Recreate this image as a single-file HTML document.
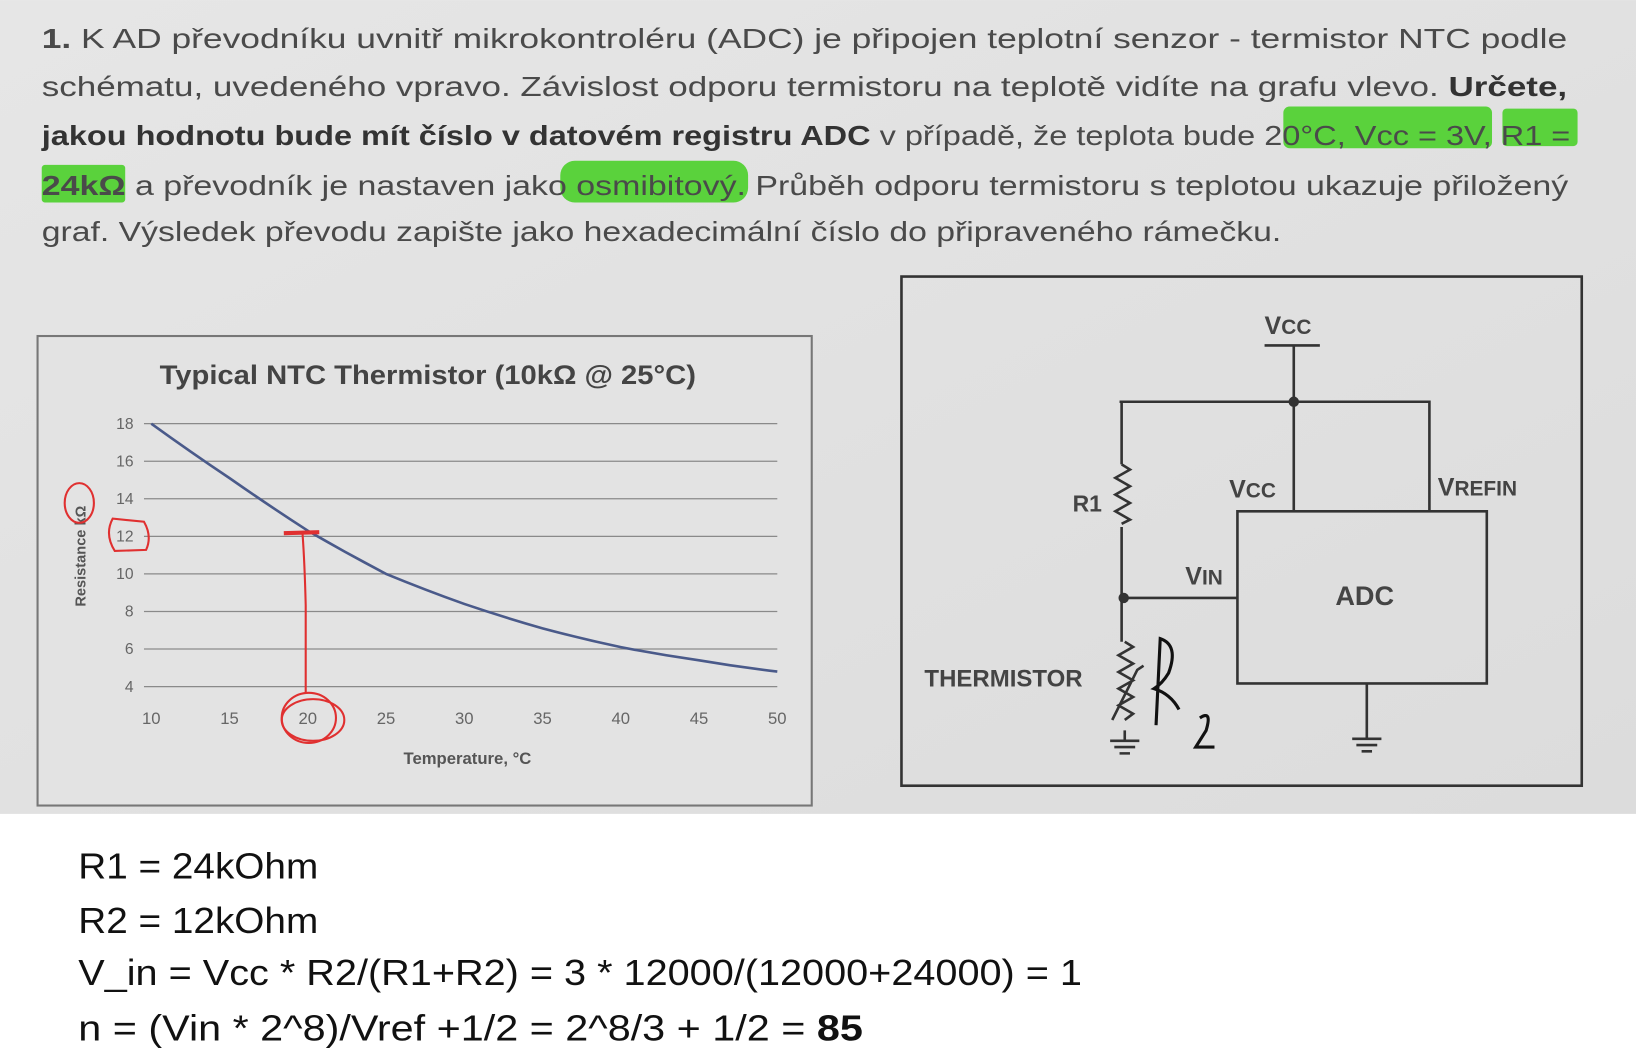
<!DOCTYPE html>
<html><head><meta charset="utf-8"><style>
html,body{margin:0;padding:0;background:#fff;}
svg{display:block;}
</style></head><body>
<svg width="1636" height="1056" viewBox="0 0 1568 1012" xmlns="http://www.w3.org/2000/svg" font-family="'Liberation Sans', sans-serif">
<defs><linearGradient id="bg" x1="0" y1="0" x2="1" y2="1"><stop offset="0" stop-color="#e6e6e6"/><stop offset="1" stop-color="#dcdcdc"/></linearGradient></defs>
<rect x="0" y="0" width="1568" height="780" fill="url(#bg)"/>
<g fill="#5ad23c">
<rect x="1230" y="102" width="200" height="40" rx="6"/>
<rect x="1440" y="104" width="72" height="36" rx="4"/>
<rect x="40" y="158" width="80" height="36" rx="3"/>
<rect x="537" y="154" width="180" height="40" rx="14"/>
</g>
<g fill="#4a4a4a" font-size="27">
<text x="40" y="46" textLength="1462" lengthAdjust="spacingAndGlyphs"><tspan font-weight="bold">1.</tspan> K AD převodníku uvnitř mikrokontroléru (ADC) je připojen teplotní senzor - termistor NTC podle</text>
<text x="40" y="92" textLength="1462" lengthAdjust="spacingAndGlyphs">schématu, uvedeného vpravo. Závislost odporu termistoru na teplotě vidíte na grafu vlevo. <tspan font-weight="bold" fill="#333">Určete,</tspan></text>
<text x="40" y="139" textLength="1465" lengthAdjust="spacingAndGlyphs"><tspan font-weight="bold" fill="#333">jakou hodnotu bude mít číslo v datovém registru ADC</tspan> v případě, že teplota bude 20°C, Vcc = 3V, R1 =</text>
<text x="40" y="187" textLength="1463" lengthAdjust="spacingAndGlyphs"><tspan font-weight="bold">24kΩ</tspan> a převodník je nastaven jako osmibitový. Průběh odporu termistoru s teplotou ukazuje přiložený</text>
<text x="40" y="231" textLength="1188" lengthAdjust="spacingAndGlyphs">graf. Výsledek převodu zapište jako hexadecimální číslo do připraveného rámečku.</text>
</g>
<rect x="36" y="322" width="742" height="450" fill="#e3e3e3" stroke="#777" stroke-width="2"/>
<text x="153" y="368" textLength="514" lengthAdjust="spacingAndGlyphs" font-size="26" font-weight="bold" fill="#444">Typical NTC Thermistor (10kΩ @ 25°C)</text>
<g id="plot"></g>
<text x="448" y="732" text-anchor="middle" font-size="16" font-weight="bold" fill="#555">Temperature, °C</text>
<text transform="translate(82,533) rotate(-90)" text-anchor="middle" font-size="14" font-weight="bold" fill="#555">Resistance kΩ</text>
<g fill="none" stroke="#e03030" stroke-width="2">
<ellipse cx="296" cy="688" rx="26" ry="24"/>
<ellipse cx="300" cy="690" rx="30" ry="20"/>
<path d="M293 664 L293 580 Q292 540 290 512"/>
<path d="M272 511 L306 510" stroke-width="4"/>
<path d="M108 497 Q100 512 110 528 L140 527 Q146 514 138 500 Z"/>
<ellipse cx="76" cy="482" rx="14" ry="19"/>
</g>
<g fill="none" stroke="#333" stroke-width="2.5">
<rect x="864" y="265" width="652" height="488" stroke-width="2.5"/>
<path d="M1212 331 L1265 331 M1240 331 L1240 490 M1073 385 L1370 385 L1370 490 M1075 385 L1075 445 M1075 505 L1075 615 M1077 573 L1186 573 M1078 700 L1078 710"/>
<path d="M1075 445 l8 5 l-14 8 l14 8 l-14 8 l14 8 l-14 8 l14 8 l-8 4"/>
<path d="M1078 615 l8 5 l-14 8 l14 8 l-14 8 l14 8 l-14 8 l14 8 l-14 8 l14 8 l-8 6 M1066 690 l4 -8 l20 -40 l6 -4"/>
<rect x="1186" y="490" width="239" height="165"/>
<path d="M1310 655 L1310 708 M1296 708 L1324 708 M1300 714 L1320 714 M1305 720 L1315 720 M1064 710 L1092 710 M1068 716 L1088 716 M1073 722 L1083 722"/>
<path d="M1108 695 L1112 612 Q1130 618 1120 645 Q1114 655 1106 660 Q1122 665 1130 680 M1150 688 Q1162 680 1156 700 L1146 716 L1164 716" stroke="#111" stroke-width="3"/>
</g>
<circle cx="1240" cy="385" r="5" fill="#333"/>
<circle cx="1077" cy="573" r="5" fill="#333"/>
<g fill="#444" font-weight="bold">
<text x="1212" y="320" font-size="24">V<tspan font-size="20">CC</tspan></text>
<text x="1178" y="477" font-size="24">V<tspan font-size="20">CC</tspan></text>
<text x="1378" y="475" font-size="24">V<tspan font-size="20">REFIN</tspan></text>
<text x="1136" y="560" font-size="24">V<tspan font-size="20">IN</tspan></text>
<text x="1308" y="580" font-size="26" text-anchor="middle">ADC</text>
<text x="1028" y="490" font-size="22">R1</text>
<text x="886" y="658" font-size="23">THERMISTOR</text>
</g>
<g fill="#111" font-size="35">
<text x="75" y="842" textLength="230" lengthAdjust="spacingAndGlyphs">R1 = 24kOhm</text>
<text x="75" y="894" textLength="230" lengthAdjust="spacingAndGlyphs">R2 = 12kOhm</text>
<text x="75" y="944" textLength="962" lengthAdjust="spacingAndGlyphs">V_in = Vcc * R2/(R1+R2) = 3 * 12000/(12000+24000) = 1</text>
<text x="75" y="997" textLength="752" lengthAdjust="spacingAndGlyphs">n = (Vin * 2^8)/Vref +1/2 = 2^8/3 + 1/2 = <tspan font-weight="bold">85</tspan></text>
</g>
</svg>
<script>
const temps = [10,15,20,25,30,35,40,45,50];
const resist = [18,15.1,12.3,10,8.4,7.1,6.1,5.4,4.8];
const yTicks = [4,6,8,10,12,14,16,18];
const xTicks = [10,15,20,25,30,35,40,45,50];
const NS='http://www.w3.org/2000/svg';
const g=document.getElementById('plot');
const xs=t=>145+(t-10)/40*600;
const ys=v=>658-(v-4)/14*252;
function mk(tag,attrs){const e=document.createElementNS(NS,tag);for(const k in attrs)e.setAttribute(k,attrs[k]);g.appendChild(e);return e;}
yTicks.forEach(v=>{
 const l=mk('line',{x1:138,x2:745,y1:ys(v),y2:ys(v),stroke:'#8a8a8a','stroke-width':1.2});
 
 
 const t=mk('text',{x:128,y:ys(v)+5,'text-anchor':'end','font-size':15,fill:'#666'});
 t.textContent=v;
 
 
});
xTicks.forEach(v=>{
 const t=mk('text',{x:xs(v),y:694,'text-anchor':'middle','font-size':16,fill:'#666'});
 t.textContent=v;
 
 
});
let d='';
for(let i=0;i<temps.length;i++){
 const x=xs(temps[i]),y=ys(resist[i]);
 if(i===0)d+='M'+x+' '+y;
 else{const px=xs(temps[i-1]),py=ys(resist[i-1]);const cx=(px+x)/2;d+=' Q'+cx+' '+((py+y)/2+1)+' '+x+' '+y;}
}
const p=mk('path',{d:d,fill:'none',stroke:'#4a5a8a','stroke-width':2.5});


</script>
</body></html>
